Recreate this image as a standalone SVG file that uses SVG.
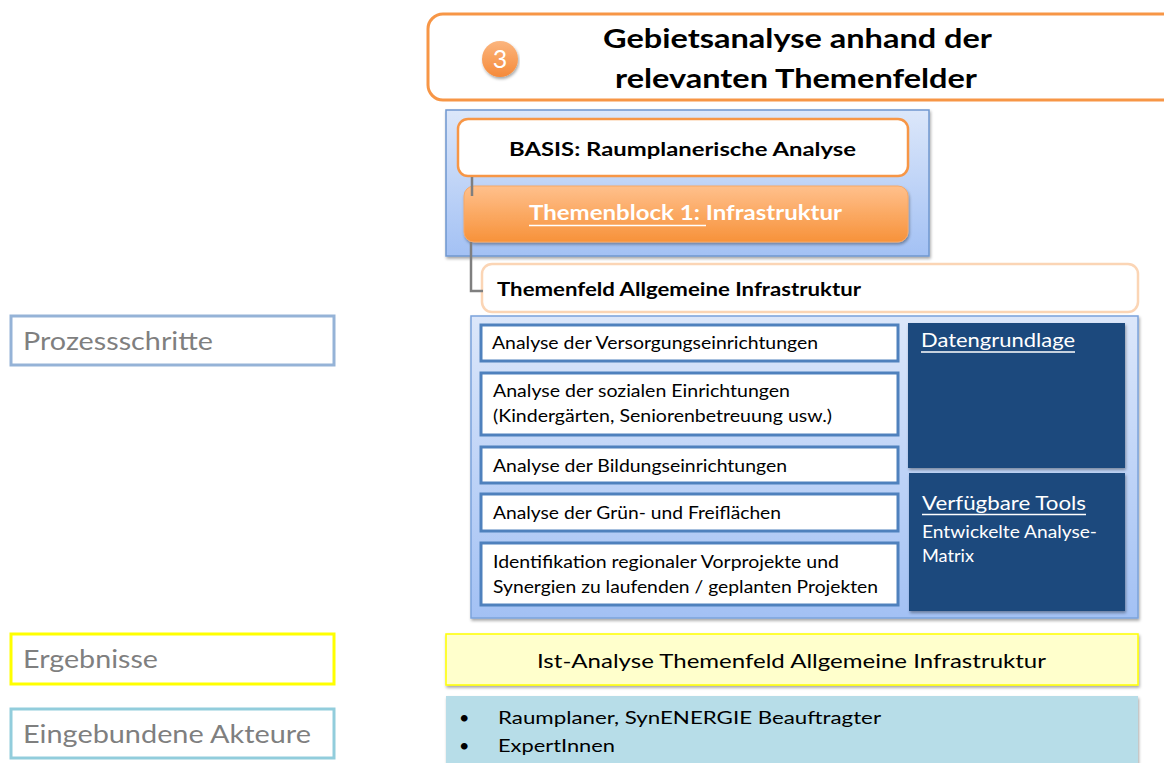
<svg xmlns="http://www.w3.org/2000/svg" width="1164" height="763" viewBox="0 0 1164 763">
<style>
text { font-family: Lato, "Liberation Sans", sans-serif; }
.b { font-weight: bold; fill: #000; }
.it { font-size: 18px; fill: #000; }
.lbl { font-size: 25px; fill: #7F7F7F; }
.wt { fill: #fff; }
.item { fill: #fff; stroke: #4F81BD; stroke-width: 3; }
.dark { fill: #1F497D; }
.conn { fill: none; stroke: #7F7F7F; stroke-width: 2.5; }
.ul { stroke: #fff; stroke-width: 1.5; }
</style>
<defs>
<filter id="sh" x="-5%" y="-10%" width="110%" height="140%">
<feDropShadow dx="1" dy="2" stdDeviation="1.5" flood-color="#000" flood-opacity="0.35"/>
</filter>
<linearGradient id="gBlue" x1="0" y1="0" x2="0" y2="1">
<stop offset="0" stop-color="#DCE7FA"/>
<stop offset="1" stop-color="#A3C1F4"/>
</linearGradient>
<linearGradient id="gOr" x1="0" y1="0" x2="0" y2="1">
<stop offset="0" stop-color="#FFC08C"/>
<stop offset="1" stop-color="#F7923A"/>
</linearGradient>
<linearGradient id="gCirc" x1="0" y1="0" x2="0" y2="1">
<stop offset="0" stop-color="#FBB57E"/>
<stop offset="1" stop-color="#F58A3A"/>
</linearGradient>
</defs>

<g id="title">
<rect x="428" y="14" width="750" height="86" rx="15" fill="#fff" stroke="#F79646" stroke-width="3"/>
<circle cx="500" cy="59" r="18" fill="url(#gCirc)" filter="url(#sh)"/>
<text x="500" y="68" text-anchor="middle" font-size="25" class="wt">3</text>
<text x="603" y="48" class="b" font-size="27" textLength="389" lengthAdjust="spacingAndGlyphs">Gebietsanalyse anhand der</text>
<text x="615" y="88" class="b" font-size="27" textLength="362" lengthAdjust="spacingAndGlyphs">relevanten Themenfelder</text>
</g>

<g id="basis-container">
<rect x="446" y="110" width="483" height="146" fill="url(#gBlue)" stroke="#6F97CF" stroke-width="1.5" filter="url(#sh)"/>
</g>

<g id="basis">
<rect x="458" y="119" width="450" height="57" rx="10" fill="#fff" stroke="#F79646" stroke-width="2.5"/>
<text x="509" y="156" class="b" font-size="19" textLength="347" lengthAdjust="spacingAndGlyphs">BASIS: Raumplanerische Analyse</text>
</g>

<g id="themenblock">
<rect x="464" y="186" width="444" height="56" rx="10" fill="url(#gOr)" stroke="#F8A866" stroke-width="1" filter="url(#sh)"/>
<text x="529" y="220" class="b wt" font-size="20" textLength="313" lengthAdjust="spacingAndGlyphs">Themenblock 1: Infrastruktur</text>
<line x1="529" y1="225.5" x2="706" y2="225.5" class="ul"/>
</g>

<g id="themenfeld">
<rect x="482" y="264" width="656" height="48" rx="10" fill="#fff" stroke="#FBD5B5" stroke-width="2.5"/>
<text x="497" y="296" class="b" font-size="18" textLength="364" lengthAdjust="spacingAndGlyphs">Themenfeld Allgemeine Infrastruktur</text>
</g>

<g id="connectors">
<path class="conn" d="M472,177 V196"/>
<path class="conn" d="M471,242 V291 H483"/>
</g>

<g id="analyse-container">
<rect x="471" y="316" width="667" height="302" fill="url(#gBlue)" stroke="#7BA3DB" stroke-width="1.5" filter="url(#sh)"/>
</g>

<g id="item1">
<rect x="481" y="325" width="417" height="36" class="item"/>
<text x="492" y="349" class="it" textLength="326" lengthAdjust="spacingAndGlyphs">Analyse der Versorgungseinrichtungen</text>
</g>
<g id="item2">
<rect x="481" y="373" width="417" height="62" class="item"/>
<text x="493" y="397" class="it" textLength="297" lengthAdjust="spacingAndGlyphs">Analyse der sozialen Einrichtungen</text>
<text x="493" y="422" class="it" textLength="339" lengthAdjust="spacingAndGlyphs">(Kindergärten, Seniorenbetreuung usw.)</text>
</g>
<g id="item3">
<rect x="481" y="447" width="417" height="36" class="item"/>
<text x="493" y="472" class="it" textLength="294" lengthAdjust="spacingAndGlyphs">Analyse der Bildungseinrichtungen</text>
</g>
<g id="item4">
<rect x="481" y="494" width="417" height="37" class="item"/>
<text x="493" y="519" class="it" textLength="288" lengthAdjust="spacingAndGlyphs">Analyse der Grün- und Freiflächen</text>
</g>
<g id="item5">
<rect x="481" y="543" width="417" height="62" class="item"/>
<text x="493" y="568" class="it" textLength="346" lengthAdjust="spacingAndGlyphs">Identifikation regionaler Vorprojekte und</text>
<text x="493" y="593" class="it" textLength="385" lengthAdjust="spacingAndGlyphs">Synergien zu laufenden / geplanten Projekten</text>
</g>

<g id="datengrundlage">
<rect x="908" y="323" width="217" height="145" class="dark" filter="url(#sh)"/>
<text x="921" y="347" class="wt" font-size="20" textLength="154" lengthAdjust="spacingAndGlyphs">Datengrundlage</text>
<line x1="921" y1="352" x2="1075" y2="352" class="ul"/>
</g>

<g id="tools">
<rect x="909" y="473" width="216" height="138" class="dark" filter="url(#sh)"/>
<text x="922" y="510" class="wt" font-size="20" textLength="164" lengthAdjust="spacingAndGlyphs">Verfügbare  Tools</text>
<line x1="922" y1="514.5" x2="1086" y2="514.5" class="ul"/>
<text x="922" y="538" class="wt" font-size="17" textLength="175" lengthAdjust="spacingAndGlyphs">Entwickelte Analyse-</text>
<text x="922" y="562" class="wt" font-size="17" textLength="52" lengthAdjust="spacingAndGlyphs">Matrix</text>
</g>

<g id="ergebnis">
<rect x="446" y="634" width="692" height="51" fill="#FFFFCC" stroke="#FFFF00" stroke-width="1.5" filter="url(#sh)"/>
<text x="537" y="668" font-size="20" fill="#000" textLength="509" lengthAdjust="spacingAndGlyphs">Ist-Analyse Themenfeld Allgemeine Infrastruktur</text>
</g>

<g id="akteure">
<rect x="446" y="696" width="692" height="70" fill="#B7DDE8" filter="url(#sh)"/>
<text x="459" y="724" font-size="18" fill="#000">•</text>
<text x="498" y="724" font-size="18" fill="#000" textLength="383" lengthAdjust="spacingAndGlyphs">Raumplaner, SynENERGIE Beauftragter</text>
<text x="459" y="752" font-size="18" fill="#000">•</text>
<text x="498" y="752" font-size="18" fill="#000" textLength="117" lengthAdjust="spacingAndGlyphs">ExpertInnen</text>
</g>

<g id="label-prozess">
<rect x="11" y="316" width="323" height="49" fill="#fff" stroke="#95B3D7" stroke-width="3"/>
<text x="23" y="350" class="lbl" textLength="190" lengthAdjust="spacingAndGlyphs">Prozessschritte</text>
</g>
<g id="label-ergebnisse">
<rect x="11" y="634" width="323" height="50" fill="#fff" stroke="#FFFF00" stroke-width="3"/>
<text x="23" y="668" class="lbl" textLength="135" lengthAdjust="spacingAndGlyphs">Ergebnisse</text>
</g>
<g id="label-akteure">
<rect x="11" y="709" width="323" height="49" fill="#fff" stroke="#92CDDC" stroke-width="3"/>
<text x="23" y="743" class="lbl" textLength="288" lengthAdjust="spacingAndGlyphs">Eingebundene Akteure</text>
</g>
</svg>
